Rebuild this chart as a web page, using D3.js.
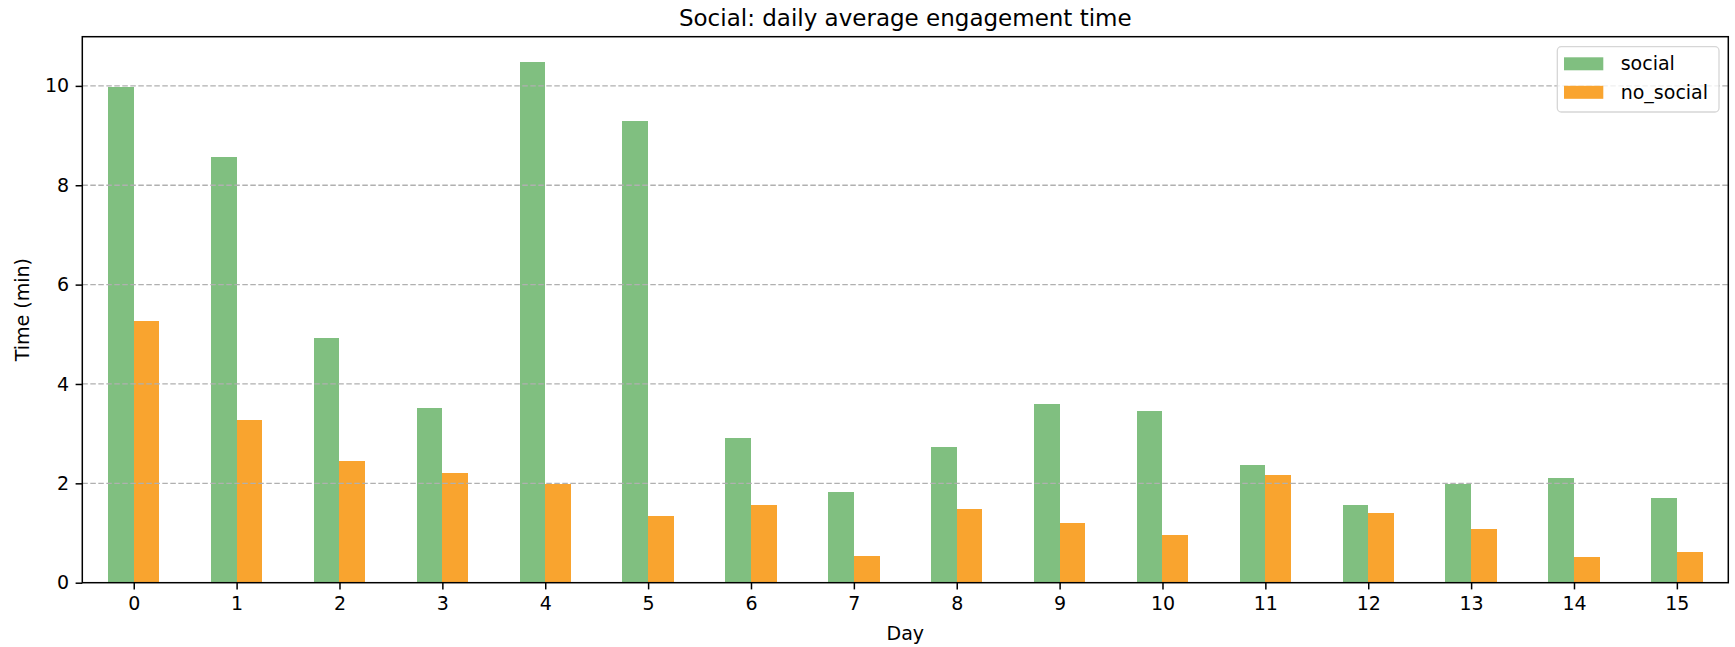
<!DOCTYPE html>
<html>
<head>
<meta charset="utf-8">
<script src="https://cdn.jsdelivr.net/npm/d3@7"></script>
<style>
  html, body { margin: 0; padding: 0; background: #ffffff; }
  svg { display: block; font-family: "DejaVu Sans", sans-serif; }
</style>
</head>
<body>
<svg id="chart" width="1735" height="647"></svg>
<script>
// ---- data ----
const days = [0, 1, 2, 3, 4, 5, 6, 7, 8, 9, 10, 11, 12, 13, 14, 15];
const seriesNames = ["social", "no_social"];
const socialValues = [9.97, 8.57, 4.93, 3.51, 10.48, 9.30, 2.91, 1.83, 2.74, 3.60, 3.45, 2.37, 1.56, 1.99, 2.11, 1.71];
const noSocialValues = [5.27, 3.27, 2.45, 2.20, 1.99, 1.34, 1.57, 0.54, 1.49, 1.20, 0.97, 2.17, 1.40, 1.09, 0.52, 0.62];
const yTicks = [0, 2, 4, 6, 8, 10];
const titleText = "Social: daily average engagement time";
const xLabel = "Day";
const yLabel = "Time (min)";

// ---- layout ----
const W = 1735, H = 647;
const plot = { left: 82.3, right: 1728.3, top: 36.7, bottom: 582.7 };
const colors = { social: "#80bf80", no_social: "#f9a42f" };
const fontSize = 19;
const titleSize = 23;
const tickLen = 6.7;
const spineW = 1.5;

const svg = d3.select("#chart");

const x = d3.scaleLinear().domain([-0.5, days.length - 0.5]).range([plot.left, plot.right]);
const y = d3.scaleLinear().domain([0, 10.99]).range([plot.bottom, plot.top]);

const barW = 0.25;
const series = [
  { name: "social", values: socialValues, offset: -barW },
  { name: "no_social", values: noSocialValues, offset: 0 }
];

// bars
const gBars = svg.append("g").attr("shape-rendering", "crispEdges");
series.forEach(s => {
  gBars.selectAll(null)
    .data(days.map((d, i) => ({ d, v: s.values[i] })))
    .enter().append("rect")
    .attr("x", p => x(p.d + s.offset))
    .attr("width", p => x(p.d + s.offset + barW) - x(p.d + s.offset))
    .attr("y", p => y(p.v))
    .attr("height", p => y(0) - y(p.v))
    .attr("fill", colors[s.name]);
});

// grid (above bars, like matplotlib default)
svg.append("g")
  .selectAll("line")
  .data(yTicks.filter(t => t > 0))
  .enter().append("line")
  .attr("x1", plot.left).attr("x2", plot.right)
  .attr("y1", t => y(t)).attr("y2", t => y(t))
  .attr("stroke", "#b0b0b0")
  .attr("stroke-width", 1.3)
  .attr("stroke-dasharray", "5.5,2.5");

// axes
const xAxis = d3.axisBottom(x).tickValues(days).tickFormat(d3.format("d"))
  .tickSize(tickLen).tickPadding(7);
const gx = svg.append("g").attr("transform", `translate(0,${plot.bottom})`).call(xAxis);
gx.select(".domain").remove();
gx.selectAll(".tick line").attr("stroke", "#000").attr("stroke-width", spineW);
gx.selectAll(".tick text").attr("font-size", fontSize).attr("fill", "#000")
  .attr("font-family", "DejaVu Sans");

const yAxis = d3.axisLeft(y).tickValues(yTicks).tickFormat(d3.format("d"))
  .tickSize(tickLen).tickPadding(6.5);
const gy = svg.append("g").attr("transform", `translate(${plot.left},0)`).call(yAxis);
gy.select(".domain").remove();
gy.selectAll(".tick line").attr("stroke", "#000").attr("stroke-width", spineW);
gy.selectAll(".tick text").attr("font-size", fontSize).attr("fill", "#000")
  .attr("font-family", "DejaVu Sans");

// spines (box)
svg.append("rect")
  .attr("x", plot.left).attr("y", plot.top)
  .attr("width", plot.right - plot.left).attr("height", plot.bottom - plot.top)
  .attr("fill", "none").attr("stroke", "#000").attr("stroke-width", spineW);

// title
svg.append("text")
  .attr("x", (plot.left + plot.right) / 2).attr("y", 25.5)
  .attr("text-anchor", "middle").attr("font-size", titleSize).attr("fill", "#000")
  .text(titleText);

// axis labels
svg.append("text")
  .attr("x", (plot.left + plot.right) / 2).attr("y", 640)
  .attr("text-anchor", "middle").attr("font-size", fontSize).attr("fill", "#000")
  .text(xLabel);

svg.append("text")
  .attr("transform", `translate(29,${(plot.top + plot.bottom) / 2}) rotate(-90)`)
  .attr("text-anchor", "middle").attr("font-size", fontSize).attr("fill", "#000")
  .text(yLabel);

// legend
const leg = svg.append("g");
leg.append("rect")
  .attr("x", 1557.3).attr("y", 46.7).attr("width", 1719 - 1557.3).attr("height", 112 - 46.7)
  .attr("rx", 4).attr("ry", 4)
  .attr("fill", "#ffffff").attr("fill-opacity", 0.8)
  .attr("stroke", "#d6d6d6").attr("stroke-width", 1.3);
seriesNames.forEach((name, i) => {
  const yTop = 57.3 + i * 28.5;
  leg.append("rect")
    .attr("x", 1564).attr("y", yTop).attr("width", 39.3).attr("height", 13)
    .attr("fill", colors[name]);
  leg.append("text")
    .attr("x", 1620.7).attr("y", yTop + 13)
    .attr("font-size", fontSize).attr("fill", "#000")
    .text(name);
});
</script>
</body>
</html>
